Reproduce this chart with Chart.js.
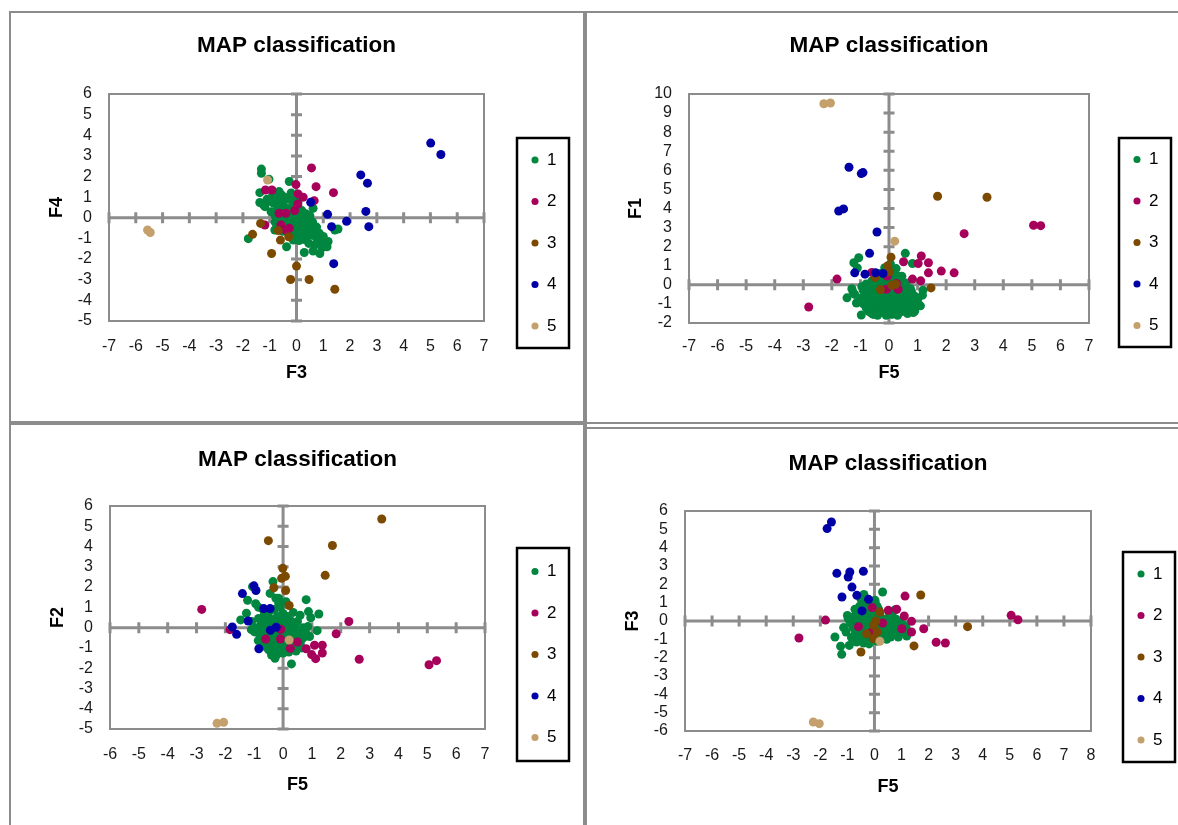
<!DOCTYPE html>
<html><head><meta charset="utf-8">
<script src="https://cdn.jsdelivr.net/npm/chart.js@4.4.1/dist/chart.umd.min.js"></script>
<style>
html,body{margin:0;padding:0;background:#fff;}
body{width:1178px;height:825px;position:relative;overflow:hidden;}
canvas{position:absolute;}
.ln{position:absolute;background:#8c8c8c;z-index:5;}
</style></head><body>
<canvas id="c1" width="571" height="406" style="left:12px;top:14px"></canvas>
<canvas id="c2" width="590" height="408" style="left:588px;top:14px"></canvas>
<canvas id="c3" width="571" height="400" style="left:12px;top:425px"></canvas>
<canvas id="c4" width="590" height="395" style="left:588px;top:430px"></canvas>
<div class="ln" style="left:9px;top:11px;width:1169px;height:2px"></div>
<div class="ln" style="left:9px;top:11px;width:2px;height:814px"></div>
<div class="ln" style="left:583px;top:11px;width:4px;height:814px"></div>
<div class="ln" style="left:9px;top:421px;width:578px;height:4px"></div>
<div class="ln" style="left:585px;top:422px;width:593px;height:2px"></div>
<div class="ln" style="left:585px;top:427px;width:593px;height:2px"></div>
<script>
// ---------- DATA ----------
const classLabels = ['1', '2', '3', '4', '5'];
const chartTitle = 'MAP classification';

// Panel 1 : F3 (x) vs F4 (y)
const f3f4_class1 = [[-1.31,2.36],[-1.31,2.16],[-1.03,1.87],[-0.27,1.76],[-1.37,1.22],[-0.65,1.27],[-0.55,1.10],[-0.9,1.05],[-0.75,0.95],[-1.37,0.74],[-1.18,0.54],[-1.25,0.65],[-1.0,0.8],[-0.85,0.7],[-0.6,0.85],[-0.45,1.0],[-0.3,0.9],[-0.2,1.2],[-0.1,0.8],[-0.5,0.6],[-0.7,0.45],[-0.95,0.3],[-0.8,0.1],[-0.6,0.25],[-0.35,0.45],[-0.15,0.55],[0.05,0.55],[-0.45,0.2],[-0.2,0.3],[0.0,0.3],[0.2,0.35],[0.35,0.2],[0.62,0.46],[0.5,0.1],[0.15,0.1],[-0.05,0.05],[-0.3,0.0],[-0.55,-0.05],[-0.8,-0.2],[-0.81,-0.59],[-0.6,-0.35],[-0.4,-0.2],[-0.2,-0.15],[0.0,-0.1],[0.2,-0.05],[0.4,-0.1],[0.6,-0.2],[0.3,-0.3],[0.1,-0.35],[-0.1,-0.4],[-0.3,-0.5],[-0.15,-0.7],[0.05,-0.6],[0.25,-0.55],[0.45,-0.45],[0.56,-0.54],[0.72,-0.92],[0.65,-0.7],[0.85,-0.75],[0.4,-0.8],[0.2,-0.85],[0.0,-0.9],[-0.2,-0.95],[-0.12,-1.08],[0.1,-1.1],[0.3,-1.05],[0.46,-1.24],[0.62,-1.61],[0.29,-1.68],[0.87,-1.73],[1.18,-1.15],[1.14,-1.40],[1.0,-1.2],[0.8,-1.1],[0.95,-1.45],[0.7,-1.3],[1.55,-0.54],[1.43,-0.59],[-0.37,-1.40],[-1.80,-1.01],[0.35,-0.2],[0.15,-0.45],[0.5,-0.3],[-0.05,-0.25],[0.25,0.0],[0.1,0.2],[-0.25,-0.3],[0.45,0.05],[0.3,-0.65],[0.55,-0.85],[0.75,-0.45],[-0.5,-0.65],[0.05,0.75],[-1.1,0.9],[-0.9,1.3],[1.0,-0.9],[0.9,-1.0]];
const f3f4_class2 = [[0.56,2.42],[0.73,1.51],[-0.02,1.61],[1.38,1.22],[-1.16,1.35],[-0.92,1.35],[0.06,1.16],[0.25,1.00],[0.66,0.83],[0.05,0.67],[-0.07,0.35],[-0.65,0.22],[-0.40,0.22],[-1.18,-0.35],[-0.58,-0.35],[-0.27,-0.51],[-0.40,-0.59]];
const f3f4_class3 = [[-1.34,-0.27],[-1.64,-0.80],[-0.93,-1.73],[-0.68,-0.62],[-0.60,-1.08],[-0.29,-0.92],[0.00,-2.34],[-0.22,-2.99],[0.47,-2.99],[1.43,-3.46]];
const f3f4_class4 = [[5.01,3.62],[5.39,3.07],[2.40,2.08],[2.65,1.68],[0.53,0.75],[1.16,0.17],[2.59,0.31],[1.87,-0.17],[1.31,-0.43],[2.70,-0.43],[1.39,-2.22]];
const f3f4_class5 = [[-5.56,-0.59],[-5.46,-0.71],[-1.08,1.83]];

// Panel 2 : F5 (x) vs F1 (y)
const f5f1_class1 = [[0.57,1.65],[-1.06,1.42],[-1.23,1.16],[0.82,1.12],[-1.11,0.88],[-1.47,-0.68],[-1.14,-0.95],[-1.26,-0.37],[-0.97,-1.58],[0.98,-1.07],[0.90,-1.38],[1.19,-0.28],[1.17,-0.54],[-0.6,0.2],[-0.4,0.3],[-0.2,0.25],[0.0,0.3],[0.2,0.2],[0.4,0.15],[0.3,0.45],[0.1,0.6],[-0.1,0.5],[-0.3,0.1],[-0.5,-0.1],[-0.7,-0.2],[-0.9,-0.3],[-0.8,-0.6],[-0.6,-0.4],[-0.4,-0.3],[-0.2,-0.2],[0.0,-0.1],[0.2,-0.15],[0.4,-0.2],[0.6,-0.3],[0.8,-0.4],[0.7,-0.7],[0.5,-0.5],[0.3,-0.45],[0.1,-0.4],[-0.1,-0.5],[-0.3,-0.6],[-0.5,-0.7],[-0.7,-0.9],[-0.9,-1.0],[-0.6,-1.1],[-0.4,-0.9],[-0.2,-0.8],[0.0,-0.75],[0.2,-0.7],[0.4,-0.8],[0.6,-0.9],[0.8,-1.0],[0.7,-1.2],[0.5,-1.1],[0.3,-1.0],[0.1,-1.05],[-0.1,-1.1],[-0.3,-1.2],[-0.5,-1.3],[-0.7,-1.4],[-0.55,-1.55],[-0.35,-1.45],[-0.15,-1.4],[0.05,-1.35],[0.25,-1.3],[0.45,-1.4],[0.65,-1.5],[0.85,-1.45],[0.3,-1.6],[0.1,-1.55],[-0.1,-1.6],[-0.4,-1.6],[-0.6,-1.5],[-0.8,-1.2],[0.9,-0.6],[1.0,-0.8],[-1.0,-0.7],[-0.95,-0.1],[0.15,0.0],[-0.05,0.05],[0.35,-0.05],[0.55,-0.1],[-0.25,-0.35],[0.25,-0.55],[-0.45,-0.5],[0.0,-0.35],[0.15,-0.9],[-0.2,-1.0],[0.45,-0.65],[-0.65,-0.8],[0.6,0.1],[-0.8,0.05],[-0.35,0.6],[0.45,0.45],[-1.2,-0.5],[0.05,1.1],[-0.15,0.9],[0.25,0.85],[1.1,-1.1],[-1.3,-0.2],[0.75,-0.2]];
const f5f1_class2 = [[-2.81,-1.16],[-1.82,0.30],[-0.60,0.65],[-0.06,0.46],[0.51,1.21],[1.02,1.12],[1.13,1.51],[1.38,1.16],[0.82,0.30],[1.11,0.21],[1.38,0.63],[1.83,0.72],[2.28,0.63],[2.63,2.68],[5.06,3.12],[5.31,3.10],[-0.09,-0.23],[0.32,-0.23],[0.26,0.07]];
const f5f1_class3 = [[1.70,4.64],[3.43,4.59],[0.07,1.45],[-0.04,1.0],[0.02,0.68],[-0.49,0.39],[-0.30,-0.25],[0.10,-0.02],[0.23,0.03],[1.47,-0.16]];
const f5f1_class4 = [[-1.40,6.16],[-0.97,5.83],[-0.91,5.88],[-1.76,3.87],[-1.59,3.98],[-0.42,2.77],[-0.68,1.65],[-1.20,0.63],[-0.84,0.56],[-0.47,0.63],[-0.21,0.60]];
const f5f1_class5 = [[-2.28,9.49],[-2.05,9.53],[0.20,2.29]];

// Panel 3 : F5 (x) vs F2 (y)
const f5f2_class1 = [[-0.35,2.27],[-1.06,2.02],[-1.23,1.35],[-0.95,1.18],[-0.45,1.69],[-0.25,1.45],[0.80,1.38],[0.88,0.79],[0.59,0.61],[1.24,0.67],[0.96,0.49],[1.18,-0.15],[0.86,0.05],[0.92,-0.44],[-1.47,0.38],[-1.27,0.71],[-1.09,0.30],[-0.99,-0.21],[-0.86,-0.64],[-0.28,-1.51],[0.29,-1.79],[0.10,1.28],[-0.16,1.45],[-0.7,0.9],[-0.5,0.75],[-0.3,0.9],[-0.1,1.0],[0.0,0.7],[-0.6,0.5],[-0.4,0.4],[-0.2,0.55],[0.05,0.35],[-0.75,0.2],[-0.55,0.1],[-0.35,0.15],[-0.15,0.2],[0.2,0.15],[0.4,0.05],[0.3,-0.1],[0.1,-0.05],[-0.1,-0.05],[-0.3,-0.1],[-0.5,-0.15],[-0.7,-0.2],[-0.8,-0.4],[-0.6,-0.4],[-0.4,-0.35],[-0.2,-0.3],[0.0,-0.3],[0.2,-0.35],[0.4,-0.3],[0.6,-0.25],[0.7,-0.5],[0.5,-0.5],[0.3,-0.55],[0.1,-0.6],[-0.1,-0.6],[-0.3,-0.65],[-0.5,-0.7],[-0.7,-0.8],[-0.6,-0.95],[-0.4,-0.9],[-0.2,-0.85],[0.0,-0.9],[0.2,-0.85],[0.4,-0.8],[0.6,-0.75],[0.5,-0.95],[0.3,-1.0],[0.1,-1.05],[-0.1,-1.1],[-0.3,-1.15],[-0.5,-1.1],[-0.2,-1.3],[0.0,-1.25],[0.2,-1.2],[-0.4,-1.35],[0.45,-1.15],[-0.65,0.65],[0.15,0.55],[-0.85,0.45],[0.5,0.3],[-0.25,-0.5],[0.15,-0.45],[-0.45,-0.55],[0.25,0.35],[-0.05,0.15],[0.7,0.0],[-0.9,0.0],[0.8,-0.3],[-1.1,-0.1],[-0.15,1.2],[0.35,0.75],[-0.85,1.0],[0.65,-1.0]];
const f5f2_class2 = [[-2.82,0.90],[-1.84,-0.10],[-0.08,-0.08],[-0.60,-0.56],[-0.09,-0.56],[0.25,-1.02],[0.50,-0.71],[0.80,-1.04],[1.09,-0.87],[1.36,-0.87],[1.36,-1.25],[0.99,-1.33],[1.13,-1.53],[1.84,-0.30],[2.28,0.30],[2.64,-1.56],[5.06,-1.83],[5.32,-1.63]];
const f5f2_class3 = [[3.42,5.36],[-0.51,4.29],[1.71,4.05],[1.46,2.58],[-0.01,2.93],[-0.05,2.43],[0.08,2.53],[-0.32,1.97],[0.09,1.83],[0.21,1.09]];
const f5f2_class4 = [[-1.41,1.68],[-1.01,2.06],[-0.94,1.83],[-0.67,0.94],[-0.45,0.94],[-1.21,0.33],[-1.76,0.03],[-1.61,-0.33],[-0.44,-0.13],[-0.24,0.02],[-0.84,-1.04]];
const f5f2_class5 = [[-2.29,-4.72],[-2.06,-4.67],[0.21,-0.61]];

// Panel 4 : F5 (x) vs F3 (y)
const f5f3_class1 = [[0.30,1.58],[-0.39,1.45],[-0.72,0.64],[-1.14,-0.36],[-1.46,-0.87],[-1.25,-1.38],[-1.21,-1.82],[-0.93,-1.33],[-0.66,-1.15],[0.02,1.13],[0.60,-0.87],[0.88,-0.87],[1.19,-0.82],[1.16,-0.33],[0.94,-0.05],[-0.97,0.13],[-0.5,1.2],[-0.3,1.0],[-0.1,0.9],[0.1,0.8],[-0.4,0.7],[-0.2,0.6],[0.0,0.5],[0.2,0.4],[-0.6,0.4],[-0.8,0.2],[-0.6,0.15],[-0.4,0.2],[-0.2,0.25],[0.0,0.1],[0.2,0.05],[0.4,0.1],[0.6,0.15],[0.8,0.1],[-0.9,-0.1],[-0.7,-0.05],[-0.5,-0.1],[-0.3,-0.05],[-0.1,-0.1],[0.1,-0.15],[0.3,-0.1],[0.5,-0.15],[0.7,-0.2],[0.9,-0.3],[-0.8,-0.35],[-0.6,-0.3],[-0.4,-0.35],[-0.2,-0.4],[0.0,-0.35],[0.2,-0.4],[0.4,-0.35],[0.6,-0.4],[0.8,-0.5],[1.0,-0.6],[-0.7,-0.6],[-0.5,-0.55],[-0.3,-0.6],[-0.1,-0.65],[0.1,-0.6],[0.3,-0.65],[0.5,-0.6],[0.7,-0.7],[-0.6,-0.85],[-0.4,-0.8],[-0.2,-0.85],[0.0,-0.9],[0.2,-0.85],[0.4,-0.9],[-0.5,-1.05],[-0.3,-1.1],[-0.1,-1.05],[0.1,-1.1],[-0.2,-1.25],[-0.4,-1.2],[0.3,-0.2],[-0.15,0.35],[0.55,0.45],[0.75,0.6],[-0.25,0.85],[0.15,0.65],[1.05,-0.2],[-1.05,-0.6],[-0.85,-0.9],[0.45,-1.0],[0.65,0.3],[-0.3,0.45],[-0.55,0.8],[0.05,-0.5],[1.2,-0.5],[-1.0,0.3]];
const f5f3_class2 = [[-2.79,-0.93],[-1.81,0.05],[-0.59,-0.31],[-0.08,0.73],[0.30,-0.11],[0.51,0.58],[0.82,0.64],[1.13,1.36],[1.10,0.27],[1.37,-0.02],[1.01,-0.42],[1.37,-0.60],[1.82,-0.42],[2.28,-1.16],[2.62,-1.20],[5.05,0.31],[5.30,0.07],[-0.10,-0.60]];
const f5f3_class3 = [[1.71,1.42],[3.44,-0.31],[1.46,-1.36],[-0.50,-1.69],[0.20,0.49],[0.05,0.00],[-0.04,-0.24],[0.10,-0.60],[-0.29,-0.69],[-0.04,-0.96]];
const f5f3_class4 = [[-1.59,5.40],[-1.75,5.04],[-1.39,2.60],[-0.91,2.67],[-0.97,2.40],[-0.41,2.71],[-0.83,1.85],[-1.20,1.31],[-0.65,1.40],[-0.22,1.18],[-0.46,0.55]];
const f5f3_class5 = [[-2.26,-5.51],[-2.04,-5.60],[0.20,-1.11]];

// axis ranges  [min, max]
const p1X = [-7, 7], p1Y = [-5, 6];
const p2X = [-7, 7], p2Y = [-2, 10];
const p3X = [-6, 7], p3Y = [-5, 6];
const p4X = [-7, 8], p4Y = [-6, 6];

// ---------- STYLE ----------
const classColors = ['#00863F', '#A6005B', '#7C4900', '#0000A6', '#C4A06C'];
const GRID = '#8c8c8c';
const FONT = '"Liberation Sans", Arial, sans-serif';
Chart.defaults.font.family = FONT;
Chart.defaults.color = '#1a1a1a';

const LEG_PAD = 24.5, LEG_BOXW = 7, LEG_FONT = 17, LEG_SLACK = 40;

const excelFrame = {
  id: 'excelFrame',
  beforeLayout(chart, args, opts) {
    const lg = chart.legend;
    if (lg && !lg._fixedFit) {
      const orig = lg.fit;
      lg.fit = function () { orig.call(this); this.width = opts.legendReserve; };
      lg._fixedFit = true;
    }
  },
  afterLayout(chart, args, opts) {
    const lg = chart.legend, b = opts.legendBox;
    if (!lg) return;
    lg.left = b.x + 18 - LEG_PAD - LEG_BOXW / 2;
    lg.right = b.x + b.w;
    lg.width = lg.right - lg.left;
    lg.top = b.y - LEG_SLACK;
    lg.bottom = b.y + b.h + LEG_SLACK;
    lg.height = lg.bottom - lg.top;
  },
  beforeDatasetsDraw(chart) {
    const {ctx, chartArea: ca, scales: {x, y}} = chart;
    ctx.save();
    ctx.strokeStyle = GRID;
    ctx.lineWidth = 2;
    ctx.strokeRect(ca.left, ca.top, ca.width, ca.height);
    const x0 = x.getPixelForValue(0), y0 = y.getPixelForValue(0);
    ctx.lineWidth = 3;
    ctx.beginPath();
    ctx.moveTo(ca.left, y0); ctx.lineTo(ca.right, y0);
    ctx.moveTo(x0, ca.top); ctx.lineTo(x0, ca.bottom);
    x.ticks.forEach(t => {
      if (t.value === 0) return;
      const px = x.getPixelForValue(t.value);
      ctx.moveTo(px, y0 - 5.5); ctx.lineTo(px, y0 + 5.5);
    });
    y.ticks.forEach(t => {
      if (t.value === 0) return;
      const py = y.getPixelForValue(t.value);
      ctx.moveTo(x0 - 5.5, py); ctx.lineTo(x0 + 5.5, py);
    });
    ctx.stroke();
    ctx.restore();
  },
  afterDraw(chart, args, opts) {
    const {ctx} = chart, b = opts.legendBox;
    ctx.save();
    ctx.strokeStyle = '#000';
    ctx.lineWidth = 2.5;
    ctx.strokeRect(b.x, b.y, b.w, b.h);
    ctx.restore();
  }
};

function makePanel(id, series, xr, yr, xTitle, yTitle, g) {
  const canvas = document.getElementById(id);
  const W = canvas.width, H = canvas.height;
  const TITLE_LH = 22.5 * 1.2, AX_LH = 18 * 1.2, TICK_LH = 16 * 1.2;
  const titlePadT = g.titleCY - TITLE_LH / 2;
  const titlePadB = g.plot.t - TITLE_LH - titlePadT;
  const datasets = series.map((d, i) => ({
    label: classLabels[i],
    data: d,
    backgroundColor: classColors[i],
    borderColor: classColors[i],
    borderWidth: 0,
    pointRadius: 4.5,
    pointHoverRadius: 4.5,
    pointStyle: 'circle',
    order: series.length - i
  }));
  try {
    return new Chart(canvas, {
      type: 'scatter',
      data: {datasets},
      plugins: [excelFrame],
      options: {
        responsive: false,
        animation: false,
        events: [],
        layout: {padding: 0},
        scales: {
          x: {
            type: 'linear', min: xr[0], max: xr[1],
            grid: {display: false, drawTicks: false},
            border: {display: false},
            ticks: {stepSize: 1, autoSkip: false, maxRotation: 0, minRotation: 0,
                    padding: g.xLabCY - g.plot.b - TICK_LH / 2, font: {size: 16}, color: '#1a1a1a'},
            title: {display: true, text: xTitle, color: '#000', font: {size: 18, weight: 'bold'},
                    padding: {top: 0, bottom: H - AX_LH / 2 - g.xTitleCY}},
            afterFit(s) { s.height = H - g.plot.b; }
          },
          y: {
            type: 'linear', min: yr[0], max: yr[1],
            grid: {display: false, drawTicks: false},
            border: {display: false},
            ticks: {stepSize: 1, autoSkip: false, padding: 17, font: {size: 16}, color: '#1a1a1a'},
            title: {display: true, text: yTitle, color: '#000', font: {size: 18, weight: 'bold'},
                    padding: {top: g.yTitleCX - AX_LH / 2, bottom: 0}},
            afterFit(s) { s.width = g.plot.l; }
          }
        },
        plugins: {
          title: {display: true, text: chartTitle, fullSize: false, color: '#000',
                  font: {size: 22.5, weight: 'bold'}, padding: {top: titlePadT, bottom: titlePadB}},
          legend: {
            display: true, position: 'right', align: 'center',
            labels: {usePointStyle: true, pointStyle: 'circle', boxWidth: LEG_BOXW, boxHeight: 5,
                     padding: LEG_PAD, color: '#000', font: {size: LEG_FONT},
                     sort: (a, b) => a.datasetIndex - b.datasetIndex}
          },
          tooltip: {enabled: false},
          excelFrame: {legendReserve: W - g.plot.r, legendBox: g.legendBox}
        }
      }
    });
  } catch (e) { console.error(e); }
}

makePanel('c1', [f3f4_class1, f3f4_class2, f3f4_class3, f3f4_class4, f3f4_class5], p1X, p1Y, 'F3', 'F4',
  {plot: {l: 97, r: 472, t: 80, b: 307}, titleCY: 32, xLabCY: 333, xTitleCY: 359, yTitleCX: 45,
   legendBox: {x: 505, y: 124, w: 52, h: 210}});
makePanel('c2', [f5f1_class1, f5f1_class2, f5f1_class3, f5f1_class4, f5f1_class5], p2X, p2Y, 'F5', 'F1',
  {plot: {l: 101, r: 501, t: 80, b: 309}, titleCY: 32, xLabCY: 333, xTitleCY: 359, yTitleCX: 48,
   legendBox: {x: 531, y: 124, w: 52, h: 209}});
makePanel('c3', [f5f2_class1, f5f2_class2, f5f2_class3, f5f2_class4, f5f2_class5], p3X, p3Y, 'F5', 'F2',
  {plot: {l: 98, r: 473, t: 81, b: 304}, titleCY: 35, xLabCY: 330, xTitleCY: 360, yTitleCX: 46,
   legendBox: {x: 505, y: 123, w: 52, h: 213}});
makePanel('c4', [f5f3_class1, f5f3_class2, f5f3_class3, f5f3_class4, f5f3_class5], p4X, p4Y, 'F5', 'F3',
  {plot: {l: 97, r: 503, t: 81, b: 301}, titleCY: 34, xLabCY: 326, xTitleCY: 357, yTitleCX: 45,
   legendBox: {x: 535, y: 122, w: 52, h: 210}});
</script>
</body></html>
